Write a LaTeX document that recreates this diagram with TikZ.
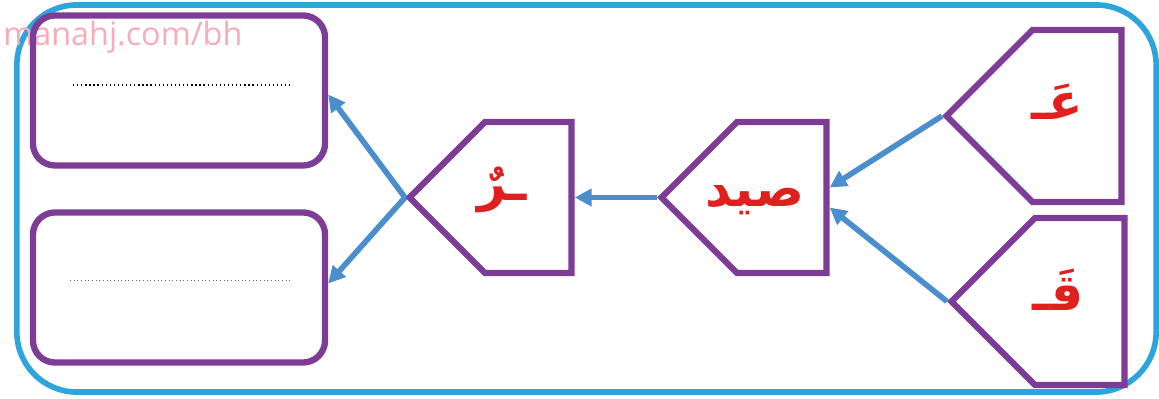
\documentclass[tikz,border=0pt]{standalone}
\usepackage{fontspec}
\usetikzlibrary{positioning, shapes.symbols, arrows.meta}
\TeXXeTstate=1
\newfontfamily\arabicfont[Script=Arabic]{DejaVu Sans}
\newfontfamily\markfont{Open Sans}
\definecolor{boxpurple}{RGB}{125,60,150}
\definecolor{wordred}{RGB}{224,32,30}
\definecolor{arrowblue}{RGB}{75,142,205}
\definecolor{framecyan}{RGB}{45,165,220}
\definecolor{markpink}{RGB}{246,172,186}
\tikzset{
  sig/.style={signal, signal to=west, signal pointer angle=90, anchor=west,
    draw=boxpurple, line width=4.5pt, inner sep=0pt},
  word/.style={inner sep=0pt, text=wordred,
    font=\arabicfont\bfseries\fontsize{36}{40}\selectfont},
  answerbox/.style={rectangle, rounded corners=0.55cm, draw=boxpurple, line width=4.5pt,
    minimum width=7.3cm, minimum height=3.75cm},
  link/.style={draw=arrowblue, line width=4pt, -{Triangle[length=12pt,width=12pt]}},
}

\begin{document}
\begin{tikzpicture}[x=0.025cm, y=-0.025cm]
    \useasboundingbox (0,0) rectangle (1159,399);

    % Frame and watermark
    \node (frame) [draw=framecyan, line width=4pt, rounded corners=1.5cm, minimum width=28.475cm, minimum height=9.675cm] at (586.5,198.5) {};
    \node (mark) [anchor=base west, inner sep=0pt, text=markpink, font=\markfont\fontsize{23}{27}\selectfont] at (3,46) {manahj.com/bh};

    % Nodes
    \node (ain)  [sig, minimum width=4.375cm, minimum height=4.3cm]   at (942,116)   {};
    \node (qaf)  [sig, minimum width=4.325cm, minimum height=4.175cm] at (947,301.5) {};
    \node (sayd) [sig, minimum width=4.125cm, minimum height=3.775cm] at (657,197.5) {};
    \node (ra)   [sig, minimum width=4.05cm,  minimum height=3.775cm] at (405,197.5) {};

    \node (ainword)  [word] at (1057,102) {\beginR عَـ\endR};
    \node (qafword)  [word] at (1058,290) {\beginR قَـ\endR};
    \node (saydword) [word] at (755,200)  {\beginR صيد\endR};
    \node (raword)   [word] at (502,190)  {\beginR ـرٌ\endR};

    \node (top) [answerbox] at (179,90.5)  {};
    \node (bot) [answerbox] at (179,287.5) {};

    % Dotted lines for the answers
    \coordinate (t1) at (73,85);
    \coordinate (t2) at (290,85);
    \coordinate (b1) at (70,280);
    \coordinate (b2) at (293,280);
    \draw [dotted, line width=0.9pt] (t1) -- (t2);
    \draw [dotted, line width=0.6pt, black!60] (b1) -- (b2);

    % Connectors
    \begin{scope}[link]

        \draw (ain.west) -- ([yshift=0.25cm]sayd.east);
        \draw (qaf.west) -- ([yshift=-0.25cm]sayd.east);
        \draw (sayd.west) -- (ra.east);
        \draw (ra.west) -- ([yshift=-0.1cm]top.east);
        \draw (ra.west) -- ([yshift=0.1cm]bot.east);

    \end{scope}

\end{tikzpicture}
\end{document}
